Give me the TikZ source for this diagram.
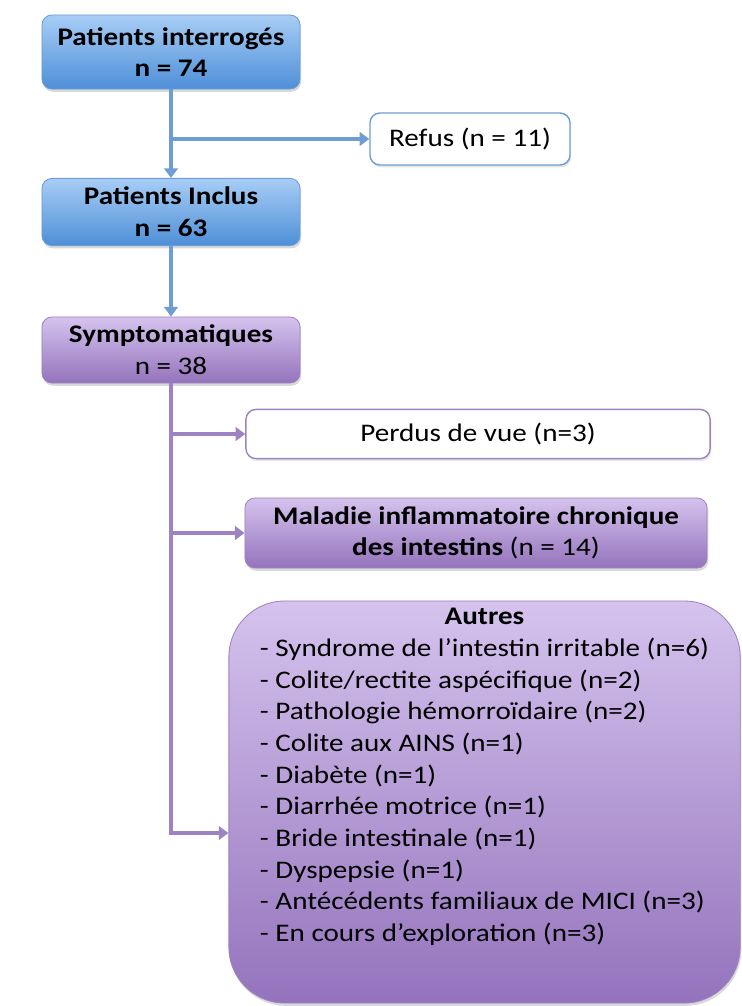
\documentclass[tikz,border=0pt]{standalone}
\usepackage{fontspec}
\setmainfont{Carlito}[FakeStretch=1.15]
\usetikzlibrary{positioning,shadows,arrows.meta,calc}

\definecolor{bluetop}{HTML}{A7CDF5}
\definecolor{bluebot}{HTML}{4E8FD8}
\definecolor{blueline}{HTML}{6E9DD3}
\definecolor{purptop}{HTML}{D5C3EE}
\definecolor{purpbot}{HTML}{9473BC}
\definecolor{purpline}{HTML}{9D83C2}

\begin{document}
\begin{tikzpicture}[x=0.025cm,y=-0.025cm,font=\fontsize{18}{22.5}\selectfont,
    sty1/.style={rectangle, rounded corners=0.25cm, draw=blueline, line width=0.6pt,
      top color=bluetop, bottom color=bluebot, align=center, inner sep=0pt,
      drop shadow={opacity=0.3, shadow xshift=0.03cm, shadow yshift=-0.07cm}},
    sty2/.style={sty1, draw=purpline, top color=purptop, bottom color=purpbot},
    sty3/.style={color=blueline, line width=2.4pt, -{Triangle[length=0.24cm,width=0.34cm]}},
    sty4/.style={sty3, color=purpline},
    sty5/.style={rectangle, rounded corners=0.25cm, draw=blueline, line width=1pt, fill=white,
      align=center, inner sep=0pt,
      drop shadow={opacity=0.2, shadow xshift=0.03cm, shadow yshift=-0.06cm}},
    sty6/.style={sty5, draw=purpline}]

\useasboundingbox (0,0) rectangle (742,1006);

% Top part (blue):
\node[sty1, minimum width=6.45cm, minimum height=1.85cm] (interro) at (171,52)
  {\textbf{Patients interrogés}\\\textbf{n = 74}};
\node[sty5, minimum width=5cm, minimum height=1.3cm] (refus) at (470,139) {Refus (n = 11)};
\node[sty1, minimum width=6.45cm, minimum height=1.68cm] (inclus) at (171,212)
  {\textbf{Patients Inclus}\\\textbf{n = 63}};

% Lower part (purple):
\node[sty2, minimum width=6.45cm, minimum height=1.65cm] (sympto) at (171,350)
  {\textbf{Symptomatiques}\\n = 38};
\node[sty6, minimum width=11.6cm, minimum height=1.23cm] (perdus) at (478,434) {Perdus de vue (n=3)};
\node[sty2, minimum width=11.55cm, minimum height=1.75cm] (maladie) at (476,533)
  {\textbf{Maladie inflammatoire chronique}\\\textbf{des intestins} (n = 14)};
\node[sty2, rounded corners=1.4cm, minimum width=12.78cm, minimum height=10.05cm] (autres) at (484.5,802) {};
\node[anchor=north, inner sep=0pt] (autreslist) at ($(autres.north)+(0,2)$)
  {\begin{tabular}{@{}l@{}}
   \multicolumn{1}{@{}c@{}}{\textbf{Autres}}\\
   - Syndrome de l’intestin irritable (n=6)\\
   - Colite/rectite aspécifique (n=2)\\
   - Pathologie hémorroïdaire (n=2)\\
   - Colite aux AINS (n=1)\\
   - Diabète (n=1)\\
   - Diarrhée motrice (n=1)\\
   - Bride intestinale (n=1)\\
   - Dyspepsie (n=1)\\
   - Antécédents familiaux de MICI (n=3)\\
   - En cours d’exploration (n=3)
   \end{tabular}};
\coordinate (autresin) at ($(autres.west)+(0,31)$);

% Connectors
\draw[sty3] (interro) -- (inclus);
\draw[sty3] (interro.south |- refus.west) -- (refus.west);
\draw[sty3] (inclus) -- (sympto);

\draw[sty4] (sympto.south) -- (sympto.south |- autresin) -- (autresin);
\draw[sty4] (sympto.south |- perdus.west) -- (perdus.west);
\draw[sty4] (sympto.south |- maladie.west) -- (maladie.west);

\end{tikzpicture}
\end{document}
